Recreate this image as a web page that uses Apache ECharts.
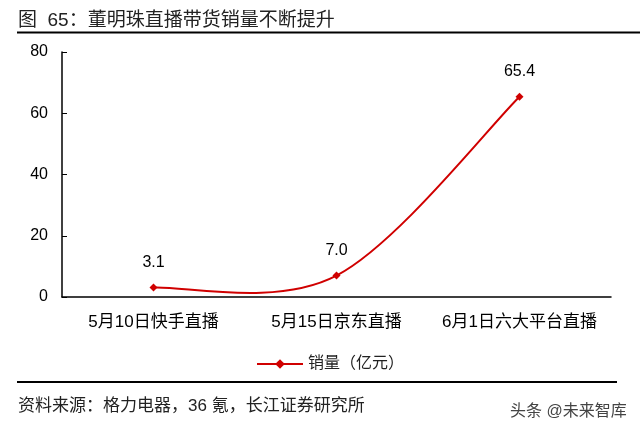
<!DOCTYPE html>
<html><head><meta charset="utf-8">
<script src="https://cdn.jsdelivr.net/npm/echarts@6/dist/echarts.min.js"></script>
<style>html,body{margin:0;padding:0;background:#fff}#c{width:640px;height:437px}</style>
</head><body><div id="c"></div>
<script>
const categories = ['5月10日快手直播', '5月15日京东直播', '6月1日六大平台直播'];
const sales = [3.1, 7.0, 65.4];
const seriesName = '销量（亿元）';
const yTicks = { min: 0, max: 80, interval: 20 };
const titleText = '图  65：董明珠直播带货销量不断提升';
const sourceText = '资料来源：格力电器，36 氪，长江证券研究所';
const watermark = '头条 @未来智库';

const font = '"Liberation Sans", Arial, "Noto Sans CJK SC", sans-serif';
const red = '#D00000';
const chart = echarts.init(document.getElementById('c'), null, { renderer: 'canvas' });

// Excel-like smoothed curve through the data points, positioned through the axes
function renderCurve(params, api) {
  const pts = sales.map((v, i) => api.coord([i, v]));
  const n = pts.length;
  let d = 'M' + pts[0][0] + ',' + pts[0][1];
  for (let i = 0; i < n - 1; i++) {
    const p0 = pts[Math.max(i - 1, 0)], p1 = pts[i], p2 = pts[i + 1], p3 = pts[Math.min(i + 2, n - 1)];
    const c1 = [p1[0] + (p2[0] - p0[0]) / 6, p1[1] + (p2[1] - p0[1]) / 6];
    const c2 = [p2[0] - (p3[0] - p1[0]) / 6, p2[1] - (p3[1] - p1[1]) / 6];
    d += ' C' + c1[0] + ',' + c1[1] + ' ' + c2[0] + ',' + c2[1] + ' ' + p2[0] + ',' + p2[1];
  }
  return { type: 'path', shape: { pathData: d }, style: { fill: 'none', stroke: red, lineWidth: 2 } };
}

chart.setOption({
  backgroundColor: '#fff',
  animation: false,
  textStyle: { fontFamily: font },
  graphic: [
    { type: 'text', left: 18, top: 11, style: { text: titleText, font: '19px ' + font, fill: '#222' } },
    { type: 'line', shape: { x1: 17, y1: 32.5, x2: 640, y2: 32.5 }, style: { stroke: '#000', lineWidth: 2 } },
    { type: 'line', shape: { x1: 17, y1: 382, x2: 617, y2: 382 }, style: { stroke: '#000', lineWidth: 2 } },
    { type: 'text', left: 18, top: 398, style: { text: sourceText, font: '17px ' + font, fill: '#222' } },
    { type: 'text', left: 510, top: 404, style: { text: watermark, font: '16px ' + font, fill: '#444' } }
  ],
  grid: { left: 62, right: 29, top: 52, bottom: 140 },
  legend: {
    left: 251, top: 351,
    itemWidth: 46, itemHeight: 12, itemGap: 6,
    textStyle: { fontSize: 16, color: '#222', fontFamily: font },
    data: [{ name: seriesName, lineStyle: { color: red, width: 2, opacity: 1 } }]
  },
  xAxis: {
    type: 'category', data: categories, boundaryGap: true,
    axisLine: { lineStyle: { color: '#000', width: 1.5 } },
    axisTick: { inside: true, length: 5, lineStyle: { color: '#000' } },
    axisLabel: { fontSize: 17, color: '#000', margin: 17, interval: 0, fontFamily: font }
  },
  yAxis: {
    type: 'value', min: yTicks.min, max: yTicks.max, interval: yTicks.interval,
    splitLine: { show: false },
    axisLine: { show: true, lineStyle: { color: '#000', width: 1.5 } },
    axisTick: { show: true, inside: true, length: 5, lineStyle: { color: '#000' } },
    axisLabel: { fontSize: 16, color: '#000', margin: 14, fontFamily: font }
  },
  series: [
    {
      name: seriesName, type: 'line', data: sales, z: 3,
      symbol: 'diamond', symbolSize: 8,
      itemStyle: { color: red },
      lineStyle: { color: red, width: 2, opacity: 0 },
      label: { show: true, position: 'top', distance: 13, fontSize: 16, color: '#000', fontFamily: font,
        formatter: p => p.value.toFixed(1) }
    },
    {
      name: 'curve', type: 'custom', data: [0], z: 2, silent: true,
      renderItem: renderCurve
    }
  ]
});
</script></body></html>
